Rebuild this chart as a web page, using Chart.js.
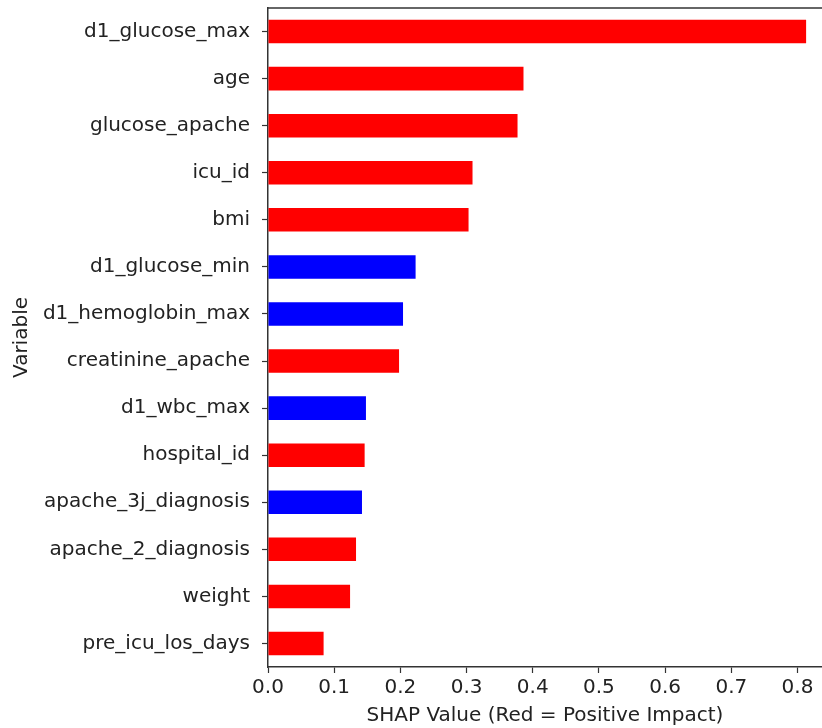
<!DOCTYPE html>
<html>
<head>
<meta charset="utf-8">
<script src="https://cdn.jsdelivr.net/npm/chart.js@4/dist/chart.umd.min.js"></script>
<style>
html,body{margin:0;padding:0;background:#fff;}
#wrap{width:822px;height:728px;position:relative;}
</style>
</head>
<body>
<div id="wrap"><canvas id="c" width="822" height="728"></canvas></div>
<script>
const variables = ["d1_glucose_max","age","glucose_apache","icu_id","bmi","d1_glucose_min","d1_hemoglobin_max","creatinine_apache","d1_wbc_max","hospital_id","apache_3j_diagnosis","apache_2_diagnosis","weight","pre_icu_los_days"];
const shapValues = [0.813,0.386,0.377,0.309,0.303,0.223,0.204,0.198,0.148,0.146,0.142,0.133,0.124,0.084];
const impactSign = ["+","+","+","+","+","-","-","+","-","+","-","+","+","+"];
const xTicks = [0.0,0.1,0.2,0.3,0.4,0.5,0.6,0.7,0.8];
const xAxisTitle = "SHAP Value (Red = Positive Impact)";
const yAxisTitle = "Variable";

const colors = impactSign.map(s => s === "+" ? "#ff0000" : "#0000ff");
const FONT = "'DejaVu Sans', sans-serif";

const topSpine = {
  id: 'topSpine',
  afterDraw(chart) {
    const a = chart.chartArea, ctx = chart.ctx;
    ctx.save();
    ctx.strokeStyle = '#333';
    ctx.lineWidth = 1.5;
    ctx.beginPath();
    ctx.moveTo(a.left, a.top);
    ctx.lineTo(a.right, a.top);
    ctx.stroke();
    ctx.restore();
  }
};

new Chart(document.getElementById('c'), {
  type: 'bar',
  data: {
    labels: variables,
    datasets: [{
      data: shapValues,
      backgroundColor: colors,
      borderWidth: 0,
      barPercentage: 0.5,
      categoryPercentage: 1.0
    }]
  },
  options: {
    indexAxis: 'y',
    responsive: false,
    animation: false,
    devicePixelRatio: 1,
    layout: { padding: { top: 8, right: 0, left: 10, bottom: 0 } },
    plugins: { legend: { display: false }, tooltip: { enabled: false } },
    scales: {
      x: {
        type: 'linear',
        min: 0,
        max: 0.837,
        afterBuildTicks(scale) { scale.ticks = xTicks.map(v => ({ value: v })); },
        afterFit(scale) { scale.height = 61; scale.paddingLeft = 0; scale.paddingRight = 0; },
        grid: { display: true, drawOnChartArea: false, drawTicks: true, tickLength: 6, color: '#333', tickWidth: 1.2 },
        border: { display: true, color: '#333', width: 1.5 },
        ticks: {
          includeBounds: false,
          color: '#222',
          font: { family: FONT, size: 20 },
          padding: 3,
          maxRotation: 0,
          callback: v => Number(v).toFixed(1)
        },
        title: { display: true, text: xAxisTitle, color: '#222', font: { family: FONT, size: 20 }, padding: { top: 0, bottom: 0 } }
      },
      y: {
        type: 'category',
        offset: true,
        afterFit(scale) { scale.width = 258; scale.paddingTop = 0; scale.paddingBottom = 0; },
        grid: { display: true, drawOnChartArea: false, drawTicks: true, tickLength: 6, color: '#333', tickWidth: 1.2, offset: false },
        border: { display: true, color: '#333', width: 1.5 },
        ticks: { color: '#222', font: { family: FONT, size: 20 }, padding: 12 },
        title: { display: true, text: yAxisTitle, color: '#222', font: { family: FONT, size: 20 }, padding: { top: 0, bottom: 0 } }
      }
    }
  },
  plugins: [topSpine]
});
</script>
</body>
</html>
